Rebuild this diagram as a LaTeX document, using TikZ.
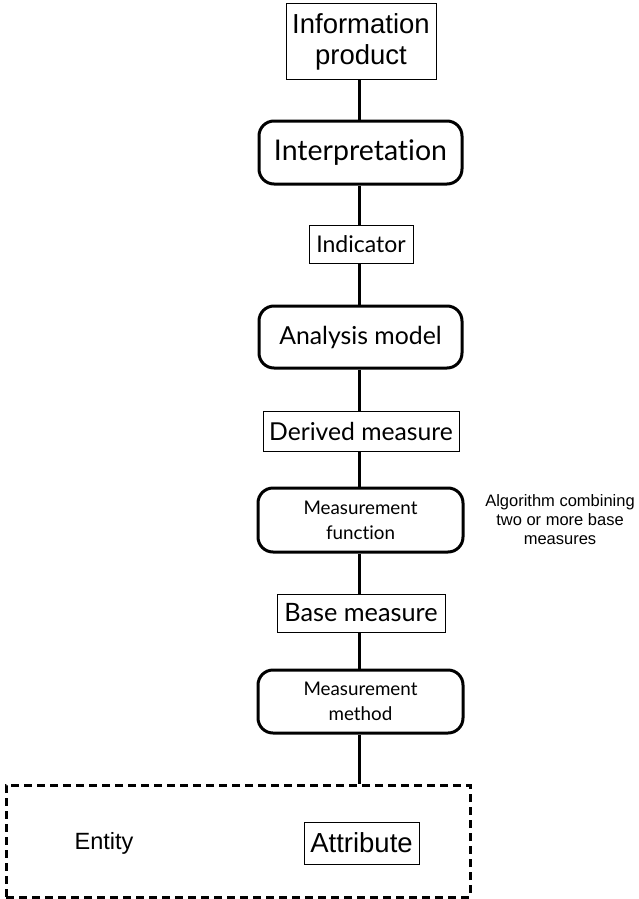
\documentclass[tikz,border=0pt]{standalone}
\usepackage{fontspec}
\setmainfont{Liberation Sans}
\newfontfamily\humanist[Ligatures={NoCommon,NoRare}]{Lato}
\begin{document}
\begin{tikzpicture}[x=1pt,y=-1pt,
  plainbox/.style={draw, line width=1pt, inner sep=0pt, align=center},
  stagebox/.style={draw, line width=3pt, rounded corners=15pt, inner sep=0pt,
    minimum width=203pt, align=center, font=\humanist},
  link/.style={line width=3pt}]
\useasboundingbox (0,0) rectangle (638,899);

% chain of measurement concepts
\node[plainbox, minimum width=150pt, minimum height=75pt,
  font=\fontsize{27.5}{31}\selectfont] (info) at (361,41.5) {Information\\product};
\node[stagebox, minimum height=63pt, font=\humanist\fontsize{28.5}{32}\selectfont]
  (interp) at (360.5,152.5) {Interpretation};
\node[plainbox, minimum width=104pt, minimum height=38pt,
  font=\humanist\fontsize{23}{26}\selectfont] (ind) at (361,244) {Indicator};
\node[stagebox, minimum height=62pt, font=\humanist\fontsize{24.8}{28}\selectfont]
  (model) at (360.5,337) {Analysis model};
\node[plainbox, minimum width=196pt, minimum height=40pt,
  font=\humanist\fontsize{24.7}{28}\selectfont] (derived) at (361,431) {Derived measure};
\node[stagebox, minimum width=205pt, minimum height=64pt,
  font=\humanist\fontsize{18.8}{25}\selectfont] (func) at (360.5,520) {Measurement\\function};
\node[plainbox, minimum width=168pt, minimum height=38pt,
  font=\humanist\fontsize{25.3}{28}\selectfont] (base) at (361,613) {Base measure};
\node[stagebox, minimum width=205pt, minimum height=63pt,
  font=\humanist\fontsize{18.8}{25}\selectfont] (method) at (360.5,701.5) {Measurement\\method};

% note beside the measurement function
\node[align=center, font=\fontsize{16.5}{19}\selectfont] (note) at (560,520)
  {Algorithm combining\\two or more base\\measures};

% entity region
\node[draw, line width=3pt, dash pattern=on 8pt off 5pt, inner sep=0pt,
  minimum width=464pt, minimum height=112pt] (entity) at (238,841) {};
\node[font=\fontsize{23.5}{27}\selectfont] (entlabel) at (104,843) {Entity};
\node[plainbox, minimum width=115pt, minimum height=42pt,
  font=\fontsize{27.5}{31}\selectfont] (attr) at (361.5,843) {Attribute};

% connectors
\draw[link] (info.south -| 359,0) -- (interp.north -| 359,0);
\draw[link] (interp.south -| 359,0) -- (ind.north -| 359,0);
\draw[link] (ind.south -| 359,0) -- (model.north -| 359,0);
\draw[link] (model.south -| 359,0) -- (derived.north -| 359,0);
\draw[link] (derived.south -| 359,0) -- (func.north -| 359,0);
\draw[link] (func.south -| 359,0) -- (base.north -| 359,0);
\draw[link] (base.south -| 359,0) -- (method.north -| 359,0);
\draw[link] (method.south -| 359,0) -- (entity.north -| 359,0);
\end{tikzpicture}
\end{document}
